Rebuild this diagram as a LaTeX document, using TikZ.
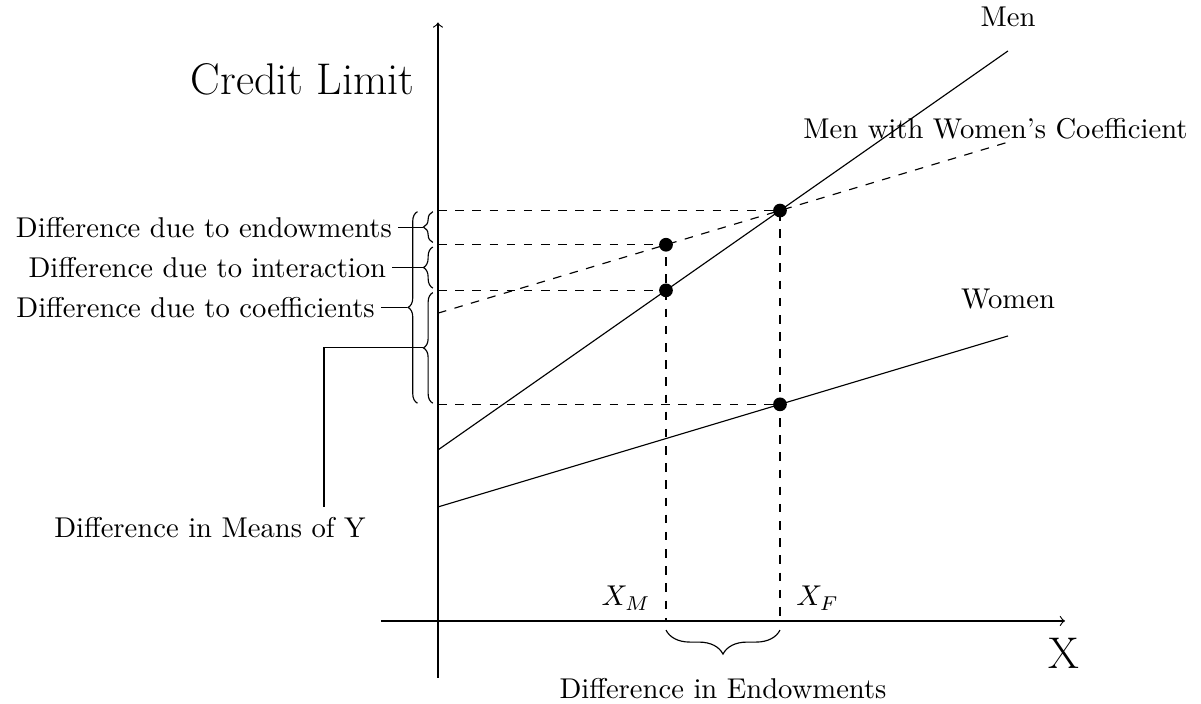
\documentclass[tikz,border=0pt]{standalone}
\usetikzlibrary{decorations.pathreplacing, calc}
\tikzstyle{dot} = [circle, fill=black, minimum size=4.8pt, inner sep=0]
\tikzstyle{smallbrace} = [decorate, decoration={brace, amplitude=3.3pt}]
\tikzstyle{bigbrace} = [decorate, decoration={brace, amplitude=8.4pt}]
\tikzstyle{part} = [anchor=east, inner sep=2pt]
\newcommand{\biglabel}{\fontsize{15.5}{18}\selectfont}

\begin{document}
\begin{tikzpicture}[x=1.4cm, y=1.4cm]
    \useasboundingbox (-3.842,-0.728) rectangle (6.693,5.447);

% Axes
    \coordinate (xs) at (-0.5,0);
    \coordinate (xe) at (5.5,0);
    \coordinate (ys) at (0,-0.5);
    \coordinate (ye) at (0,5.25);
    \draw[->] (xs) -- (xe);
    \draw[->] (ys) -- (ye);
    \node (xlab) at (5.49,-0.28) {\biglabel X};
    \node (ylab) [anchor=east, inner sep=0] at (-0.2,4.75) {\biglabel Credit Limit};

    % Regression lines
    \coordinate (men0) at (0,1.5);
    \coordinate (men1) at (5,5);
    \coordinate (wom0) at (0,1);
    \coordinate (wom1) at (5,2.5);
    \coordinate (mwc0) at (0,2.7);
    \coordinate (mwc1) at (5,4.2);
    \draw (men0) -- (men1);
    \draw (wom0) -- (wom1);
    \draw[dashed] (mwc0) -- (mwc1);
    \node (menlab) at (5,5.3) {Men};
    \node (mwclab) at (4.89,4.32) {Men with Women's Coefficient};
    \node (womlab) at (5,2.82) {Women};

    % Means and guide lines
    \coordinate (xM) at (2,0);
    \coordinate (xF) at (3,0);
    \coordinate (yMF) at (0,3.6);
    \coordinate (yMW) at (0,3.3);
    \coordinate (yMM) at (0,2.9);
    \coordinate (yWF) at (0,1.9);
    \draw[dashed] (yMF) -- (3,3.6) -- (xF);
    \draw[dashed] (yMW) -- (2,3.3) -- (xM);
    \draw[dashed] (yMM) -- (2,2.9);
    \draw[dashed] (yWF) -- (3,1.9);
    \node (mF) at (3,3.6) [dot] {};
    \node (mwM) at (2,3.3) [dot] {};
    \node (mM) at (2,2.9) [dot] {};
    \node (wF) at (3,1.9) [dot] {};
    \node (xMlab) at (1.65,0.2) {$X_M$};
    \node (xFlab) at (3.33,0.2) {$X_F$};

    % Braces on the y axis
    \draw[smallbrace] (-0.045,3.32) -- (-0.045,3.59);
    \draw[smallbrace] (-0.045,2.92) -- (-0.045,3.28);
    \draw[smallbrace] (-0.045,1.91) -- (-0.045,2.88);
    \draw[smallbrace] (-0.18,1.91) -- (-0.18,3.59);
    \coordinate (tipE) at (-0.133,3.455);
    \coordinate (tipI) at (-0.133,3.1);
    \coordinate (tipC) at (-0.268,2.75);
    \coordinate (tipD) at (-0.133,2.395);
    \coordinate (bend) at (-1,2.395);

    \node (endow) [part] at (-0.35,3.455) {Difference due to endowments};
    \node (inter) [part] at (-0.40,3.1) {Difference due to interaction};
    \node (coeff) [part] at (-0.50,2.75) {Difference due to coefficients};
    \node (means) at (-2,0.82) {Difference in Means of Y};
    \draw (endow.east) -- (tipE);
    \draw (inter.east) -- (tipI);
    \draw (coeff.east) -- (tipC);
    \draw (tipD) -- (bend) -- (means.north -| bend);

    % Brace on the x axis
    \draw[bigbrace] (3,-0.08) -- (2,-0.08);
    \node (endw) at (2.5,-0.59) {Difference in Endowments};

\end{tikzpicture}
\end{document}
